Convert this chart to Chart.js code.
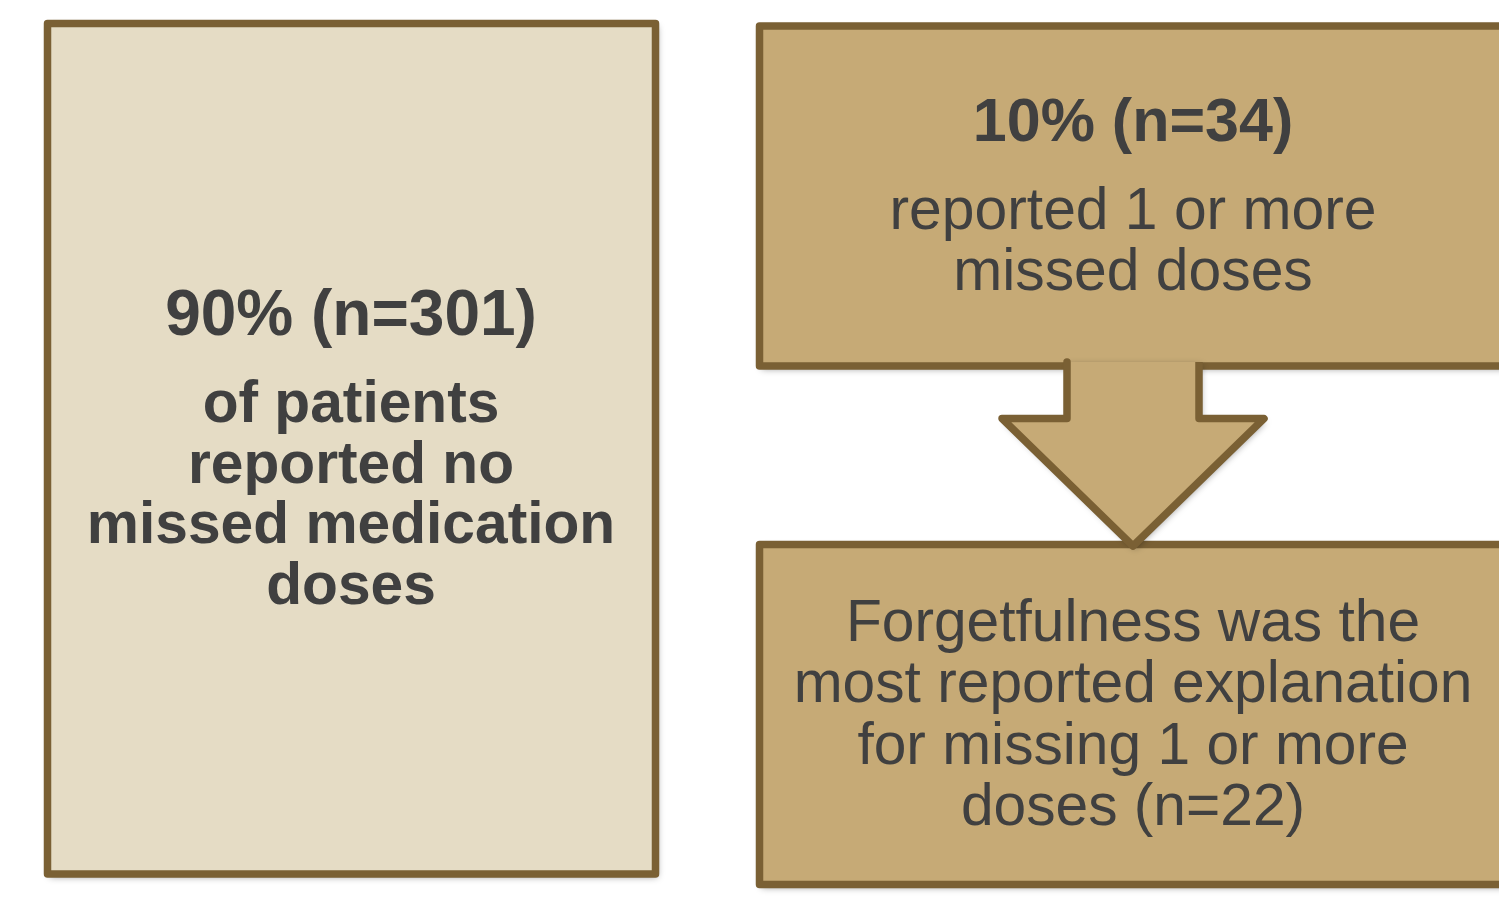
<!DOCTYPE html>
<html>
<head>
<meta charset="utf-8">
<script src="https://cdn.jsdelivr.net/npm/chart.js@4/dist/chart.umd.min.js"></script>
<style>
  html, body { margin: 0; padding: 0; background: #ffffff; }
  canvas { display: block; }
</style>
</head>
<body>
<canvas id="flowChart" width="1499" height="907"></canvas>
<script>
// outlines of the three boxes and the arrow, in page units (x to the right, y downwards)
const leftBoxX  = [351, 655.5, 655.5, 47.5, 47.5, 351];
const leftBoxY  = [23.5, 23.5, 874, 874, 23.5, 23.5];
const topBoxX   = [1530, 759.5, 759.5, 1530];
const topBoxY   = [26, 26, 366, 366];
const lowBoxX   = [1530, 759.5, 759.5, 1530];
const lowBoxY   = [544.5, 544.5, 884.5, 884.5];
const arrowX    = [1067, 1067, 1002, 1133, 1264, 1199, 1199];
const arrowY    = [362, 418.5, 418.5, 546, 418.5, 418.5, 362];

// texts
const leftHead  = '90% (n=301)';
const leftBody  = ['of patients', 'reported no', 'missed medication', 'doses'];
const topHead   = '10% (n=34)';
const topBody   = ['reported 1 or more', 'missed doses'];
const lowBody   = ['Forgetfulness was the', 'most reported explanation', 'for missing 1 or more', 'doses (n=22)'];

const edgeColor = '#7a6034';
const lightFill = '#e5dcc5';
const darkFill  = '#c6aa76';
const textColor = '#404040';
const fontName  = '"Liberation Sans", Arial, Helvetica, sans-serif';

function toPoints(xs, ys) {
    return xs.map(function (x, i) { return { x: x, y: ys[i] }; });
}

function shape(label, xs, ys, fillColor, order) {
    return {
        label: label,
        data: toPoints(xs, ys),
        borderColor: edgeColor,
        borderWidth: 7.5,
        borderJoinStyle: 'round',
        borderCapStyle: 'butt',
        backgroundColor: fillColor,
        fill: 'shape',
        tension: 0,
        pointRadius: 0,
        order: order
    };
}

// soft drop shadow under the fills only (filler draws before the outline)
const shadowPlugin = {
    id: 'boxShadow',
    beforeDatasetsDraw(chart) {
        const ctx = chart.ctx;
        ctx.save();
        ctx.shadowColor = 'rgba(0, 0, 0, 0.4)';
        ctx.shadowBlur = 7;
        ctx.shadowOffsetX = 2;
        ctx.shadowOffsetY = 3;
    },
    beforeDatasetDraw(chart) {
        chart.ctx.shadowColor = 'rgba(0, 0, 0, 0)';
    },
    afterDatasetDraw(chart) {
        chart.ctx.shadowColor = 'rgba(0, 0, 0, 0.4)';
    },
    afterDatasetsDraw(chart) {
        chart.ctx.restore();
    }
};

const textPlugin = {
    id: 'boxText',
    afterDatasetsDraw(chart) {
        const ctx = chart.ctx;
        const xs = chart.scales.x;
        const ys = chart.scales.y;

        function lines(list, cx, firstBase, step, weight, size) {
            ctx.font = weight + ' ' + size + 'px ' + fontName;
            list.forEach(function (t, i) {
                ctx.fillText(t, xs.getPixelForValue(cx), ys.getPixelForValue(firstBase + i * step));
            });
        }

        ctx.save();
        ctx.fillStyle = textColor;
        ctx.textAlign = 'center';
        ctx.textBaseline = 'alphabetic';

        lines([leftHead], 351, 335, 0, 'bold', 64);
        lines(leftBody, 351, 422, 60.5, 'bold', 58.7);

        lines([topHead], 1133, 141, 0, 'bold', 61);
        lines(topBody, 1133, 229, 61, 'normal', 58.8);

        lines(lowBody, 1133, 641, 61.3, 'normal', 58.7);
        ctx.restore();
    }
};

const ctx = document.getElementById('flowChart').getContext('2d');
const flowChart = new Chart(ctx, {
    type: 'line',
    data: {
        datasets: [
            shape('arrow', arrowX, arrowY, darkFill, 0),
            shape('missing reason', lowBoxX, lowBoxY, darkFill, 1),
            shape('missed doses', topBoxX, topBoxY, darkFill, 2),
            shape('no missed doses', leftBoxX, leftBoxY, lightFill, 3)
        ]
    },
    options: {
        responsive: false,
        devicePixelRatio: 1,
        animation: false,
        layout: { padding: 0 },
        scales: {
            x: { type: 'linear', min: 0, max: 1499, display: false },
            y: { type: 'linear', min: 0, max: 907, reverse: true, display: false }
        },
        plugins: {
            legend: { display: false },
            tooltip: { enabled: false }
        }
    },
    plugins: [shadowPlugin, textPlugin]
});
</script>
</body>
</html>
